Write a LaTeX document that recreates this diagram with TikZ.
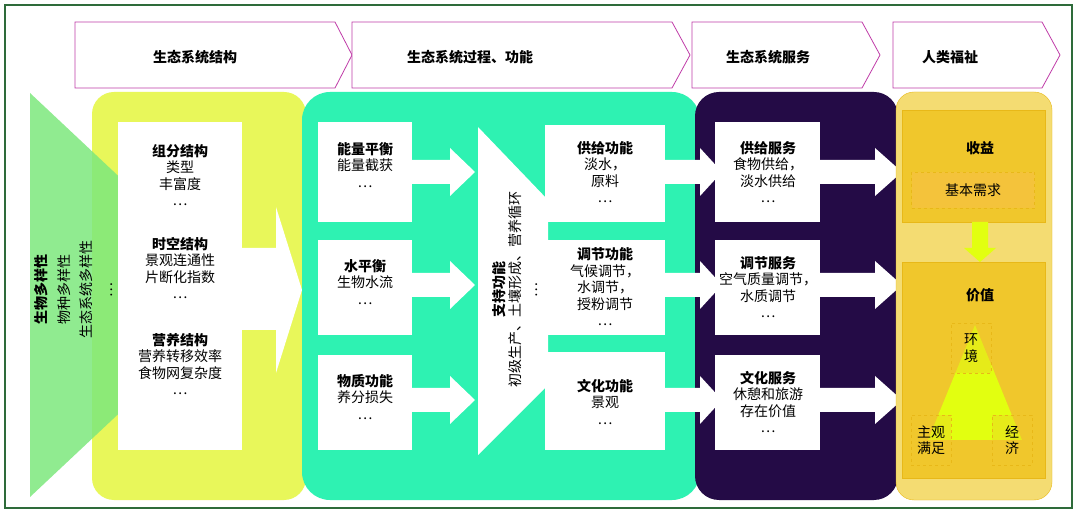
\documentclass[tikz,border=0pt]{standalone}
\usepackage{fontspec}
\setmainfont{Noto Sans CJK SC}
\usetikzlibrary{arrows.meta}
\definecolor{frame}{HTML}{2E6B3A}
\definecolor{hdr}{HTML}{C03CA8}
\definecolor{ylw}{HTML}{E8F75A}
\definecolor{tri}{HTML}{7DE87D}
\definecolor{teal}{HTML}{2EF2B2}
\definecolor{dark}{HTML}{240B46}
\definecolor{gold}{HTML}{F4DC72}
\definecolor{goldin}{HTML}{F0C72C}
\definecolor{goldd}{HTML}{E8B818}
\definecolor{lime}{HTML}{E2FF10}
\tikzset{
  txt/.style={font=\fontsize{14}{16.5}\selectfont, align=center, text=black},
  hd/.style={font=\fontsize{14}{16.5}\selectfont\bfseries},
  wbox/.style={fill=white, draw=none},
  warrow/.style={fill=white, draw=none},
  hdrshape/.style={draw=hdr, fill=white, line width=0.8pt},
  dbox/.style={draw=goldd, dashed, fill=goldin!85!orange!90!white},
  sbox/.style={draw=goldd, dashed, fill=goldin, fill opacity=0.35, text opacity=1, minimum width=40pt, minimum height=50pt, txt, inner sep=0pt},
}
\begin{document}
\begin{tikzpicture}[x=1pt,y=-1pt]
\useasboundingbox (0,0) rectangle (1080,521);
\fill[white] (0,0) rectangle (1080,521);
\draw[frame, line width=1.6pt] (5,5) rectangle (1072,508);
% headers
\draw[hdrshape] (75,22) -- (335,22) -- (352,55) -- (335,88) -- (75,88) -- cycle;
\draw[hdrshape] (352,22) -- (672,22) -- (690,55) -- (672,88) -- (352,88) -- (352,55) -- cycle;
\draw[hdrshape] (692,22) -- (862,22) -- (880,55) -- (862,88) -- (692,88) -- cycle;
\draw[hdrshape] (893,22) -- (1042,22) -- (1060,55) -- (1042,88) -- (893,88) -- cycle;
\node[hd] (h1) at (195,57) {生态系统结构};
\node[hd] (h2) at (470,57) {生态系统过程、功能};
\node[hd] (h3) at (768,57) {生态系统服务};
\node[hd] (h4) at (950,57) {人类福祉};
% column 1
\fill[ylw, rounded corners=22pt] (92,92) rectangle (306,500);
\fill[tri, opacity=0.85] (30,93) -- (245,295) -- (30,497) -- cycle;
\fill[warrow] (240,248) -- (276,248) -- (276,207) -- (302,290) -- (276,373) -- (276,330) -- (240,330) -- cycle;
\fill[wbox] (118,122) rectangle (242,450);
\node[txt] (s1) at (180,175) {\textbf{组分结构}\\类型\\丰富度\\…};
\node[txt] (s2) at (180,268) {\textbf{时空结构}\\景观连通性\\片断化指数\\…};
\node[txt] (s3) at (180,364) {\textbf{营养结构}\\营养转移效率\\食物网复杂度\\…};
\node[txt, rotate=90, font=\fontsize{14}{16.5}\selectfont\bfseries] (b1) at (41,290) {生物多样性};
\node[txt, rotate=90] (b2) at (64,290) {物种多样性};
\node[txt, rotate=90] (b3) at (86,290) {生态系统多样性};
\node[txt, rotate=90] (b4) at (112,290) {…};
% column 2
\fill[teal, rounded corners=28pt] (302,92) rectangle (700,500);
\foreach \y in {172,285,400}{
  \fill[warrow] (405,\y-12) -- (450,\y-12) -- (450,\y-24) -- (475,\y) -- (450,\y+24) -- (450,\y+12) -- (405,\y+12) -- cycle;
}
\fill[wbox] (318,122) rectangle (412,222);
\fill[wbox] (318,240) rectangle (412,335);
\fill[wbox] (318,355) rectangle (412,450);
\node[txt] (p1) at (365,165) {\textbf{能量平衡}\\能量截获\\…};
\node[txt] (p2) at (365,282) {\textbf{水平衡}\\生物水流\\…};
\node[txt] (p3) at (365,397) {\textbf{物质功能}\\养分损失\\…};
\fill[warrow] (478,127) -- (548,200) -- (548,385) -- (478,455) -- cycle;
\fill[wbox] (545,125) rectangle (665,222);
\fill[wbox] (545,240) rectangle (665,335);
\fill[wbox] (545,352) rectangle (665,450);
\node[txt, rotate=90] (sup) at (515,290) {\textbf{支持功能}\\初级生产、土壤形成、营养循环\\…};
\node[txt] (f1) at (605,172) {\textbf{供给功能}\\淡水，\\原料\\…};
\node[txt] (f2) at (605,287) {\textbf{调节功能}\\气候调节，\\水调节，\\授粉调节\\…};
\node[txt] (f3) at (605,402) {\textbf{文化功能}\\景观\\…};
% column 3
\fill[dark, rounded corners=24pt] (695,92) rectangle (898,500);
\foreach \y in {172,285,400}{
  \fill[warrow] (660,\y-12) -- (700,\y-12) -- (700,\y-24) -- (722,\y) -- (700,\y+24) -- (700,\y+12) -- (660,\y+12) -- cycle;
  \fill[warrow] (815,\y-12) -- (875,\y-12) -- (875,\y-24) -- (902,\y) -- (875,\y+24) -- (875,\y+12) -- (815,\y+12) -- cycle;
}
\fill[wbox] (715,122) rectangle (820,222);
\fill[wbox] (715,240) rectangle (820,335);
\fill[wbox] (715,355) rectangle (820,450);
\node[txt] (v1) at (768,172) {\textbf{供给服务}\\食物供给，\\淡水供给\\…};
\node[txt] (v2) at (768,287) {\textbf{调节服务}\\空气质量调节，\\水质调节\\…};
\node[txt] (v3) at (768,402) {\textbf{文化服务}\\休憩和旅游\\存在价值\\…};
% column 4
\draw[goldd, fill=gold, rounded corners=18pt] (896,92) rectangle (1052,500);
\draw[goldd, fill=goldin] (902,110) rectangle (1045,222);
\draw[goldd, fill=goldin] (902,262) rectangle (1045,478);
\fill[lime] (972,222) -- (988,222) -- (988,248) -- (996,248) -- (980,262) -- (964,248) -- (972,248) -- cycle;
\node[hd] (g1) at (980,148) {收益};
\node[dbox, minimum width=123pt, minimum height=36pt, txt] (g2) at (973,190) {基本需求};
\node[hd] (g3) at (980,295) {价值};
\fill[lime] (975,325) -- (1022,440) -- (928,440) -- cycle;
\node[sbox] (e1) at (971,348) {环\\境};
\node[sbox] (e2) at (931,440) {主观\\满足};
\node[sbox] (e3) at (1012,440) {经\\济};
\end{tikzpicture}
\end{document}
